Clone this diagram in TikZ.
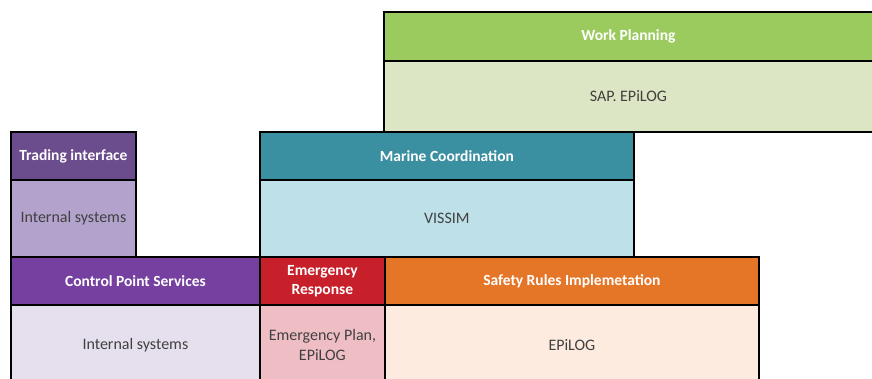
\documentclass[tikz,border=0pt]{standalone}
\usepackage{fontspec}
\setmainfont{Carlito}
\definecolor{wpH}{HTML}{9BCB5E}
\definecolor{wpB}{HTML}{DDE6C4}
\definecolor{mcH}{HTML}{3A8FA0}
\definecolor{mcB}{HTML}{BEE0E9}
\definecolor{tiH}{HTML}{6B4C8C}
\definecolor{tiB}{HTML}{B3A2CC}
\definecolor{cpH}{HTML}{7540A0}
\definecolor{cpB}{HTML}{E6E0EE}
\definecolor{erH}{HTML}{C8202A}
\definecolor{erB}{HTML}{EEBEC4}
\definecolor{srH}{HTML}{E57628}
\definecolor{srB}{HTML}{FDEBDF}
\definecolor{bodytext}{HTML}{404040}
\begin{document}
\begin{tikzpicture}[x=1pt,y=-1pt,
  box/.style={draw=black, line width=1.8pt, anchor=north west, inner sep=0pt, align=center},
  head/.style={box, text=white, font=\fontsize{15.5}{19}\selectfont\bfseries},
  body/.style={box, text=bodytext, font=\fontsize{16}{20}\selectfont}]
\useasboundingbox (0,0) rectangle (872,378);
\clip (0,0) rectangle (872,378);
% Work Planning
\node[head, fill=wpH, minimum width=489pt, minimum height=49pt] (wph) at (383,11) {Work Planning};
\node[body, fill=wpB, minimum width=489pt, minimum height=71pt] (wpb) at (383,60) {SAP. EPiLOG};
% Marine Coordination
\node[head, fill=mcH, minimum width=374pt, minimum height=48pt] (mch) at (259,131) {Marine Coordination};
\node[body, fill=mcB, minimum width=374pt, minimum height=77pt] (mcb) at (259,179) {VISSIM};
% Trading interface
\node[head, fill=tiH, minimum width=125pt, minimum height=48pt] (tih) at (10,131) {Trading interface};
\node[body, fill=tiB, minimum width=125pt, minimum height=77pt] (tib) at (10,179) {Internal systems};
% Control Point Services
\node[head, fill=cpH, minimum width=249pt, minimum height=48pt] (cph) at (10,256) {Control Point Services};
\node[body, fill=cpB, minimum width=249pt, minimum height=80pt] (cpb) at (10,304) {Internal systems};
% Emergency Response
\node[head, fill=erH, minimum width=125pt, minimum height=48pt] (erh) at (259,256) {Emergency\\Response};
\node[body, fill=erB, minimum width=125pt, minimum height=80pt] (erb) at (259,304) {Emergency Plan,\\EPiLOG};
% Safety Rules
\node[head, fill=srH, minimum width=374pt, minimum height=48pt] (srh) at (384,256) {Safety Rules Implemetation};
\node[body, fill=srB, minimum width=374pt, minimum height=80pt] (srb) at (384,304) {EPiLOG};
\end{tikzpicture}
\end{document}
